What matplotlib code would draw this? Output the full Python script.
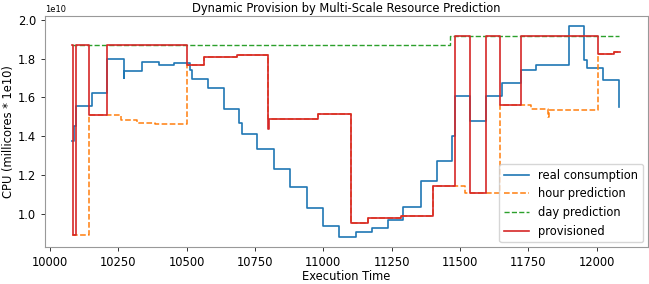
import numpy as np
import matplotlib.pyplot as plt

# values (CPU in units of 1e10 millicores)
real_t = [10082, 10090, 10096, 10154, 10210, 10271, 10273, 10337, 10400, 10455,
          10512, 10521, 10579, 10637, 10693, 10702, 10758, 10820, 10878, 10940,
          11000, 11059, 11119, 11179, 11236, 11290, 11356, 11417, 11471, 11483,
          11537, 11595, 11652, 11722, 11778, 11897, 11955, 11965, 12022, 12080]
real_v = [1.376, 1.45, 1.558, 1.622, 1.799, 1.70, 1.737, 1.785, 1.768, 1.777,
          1.74, 1.696, 1.650, 1.540, 1.47, 1.413, 1.333, 1.233, 1.138, 1.028,
          0.938, 0.882, 0.904, 0.926, 0.965, 1.034, 1.170, 1.27, 1.40, 1.605,
          1.476, 1.605, 1.674, 1.742, 1.766, 1.966, 1.794, 1.751, 1.689, 1.548]

hour_t = [10082, 10142, 10259, 10319, 10386, 10503, 10563, 10684, 10799, 10982,
          11100, 11163, 11284, 11401, 11519, 11646, 11760, 11822, 11826, 12003,
          12064, 12086]
hour_v = [0.892, 1.51, 1.485, 1.470, 1.462, 1.768, 1.808, 1.818, 1.487, 1.515,
          0.952, 0.978, 0.99, 1.141, 1.107, 1.562, 1.54, 1.50, 1.536, 1.823,
          1.832, 1.832]

day_t = [10082, 11465, 12083]
day_v = [1.871, 1.919, 1.919]

prov_t = [10082, 10084, 10097, 10142, 10210, 10503, 10563, 10684, 10799, 10801,
          10982, 11100, 11163, 11284, 11401, 11480, 11537, 11595, 11646, 11722,
          12003, 12064, 12086]
prov_v = [1.871, 0.892, 1.871, 1.51, 1.871, 1.768, 1.808, 1.818, 1.438, 1.487,
          1.515, 0.952, 0.978, 0.99, 1.141, 1.919, 1.107, 1.919, 1.562, 1.919,
          1.823, 1.832, 1.832]

scale = 1e10
fs = 8.3

fig = plt.figure(figsize=(6.49, 2.84), dpi=100)
ax = fig.add_axes([0.069, 0.13, 0.929, 0.814])

ax.plot(real_t, np.array(real_v) * scale, drawstyle='steps-post',
        color='#1f77b4', lw=1.2, label='real consumption')
ax.plot(hour_t, np.array(hour_v) * scale, drawstyle='steps-post',
        color='#ff7f0e', lw=1.1, ls='--', label='hour prediction')
ax.plot(day_t, np.array(day_v) * scale, drawstyle='steps-post',
        color='#2ca02c', lw=1.0, ls='--', label='day prediction')
ax.plot(prov_t, np.array(prov_v) * scale, drawstyle='steps-post',
        color='#d62728', lw=1.2, label='provisioned')

ax.set_xticks([10000, 10250, 10500, 10750, 11000, 11250, 11500, 11750, 12000])
ax.set_yticks(np.array([1.0, 1.2, 1.4, 1.6, 1.8, 2.0]) * scale)
ax.tick_params(labelsize=fs, length=2.9, width=0.7, colors='#333333', labelcolor='black')
ax.yaxis.get_offset_text().set_fontsize(6)

for s in ax.spines.values():
    s.set_color('#999999')
    s.set_linewidth(0.8)

ax.set_title('Dynamic Provision by Multi-Scale Resource Prediction', fontsize=fs, pad=3)
ax.set_xlabel('Execution Time', fontsize=fs, labelpad=1)
ax.set_ylabel('CPU (millicores * 1e10)', fontsize=fs, labelpad=2)
ax.legend(loc='lower right', fontsize=fs, handlelength=2.2, borderaxespad=0.4)

fig.savefig('out.png', dpi=100)
